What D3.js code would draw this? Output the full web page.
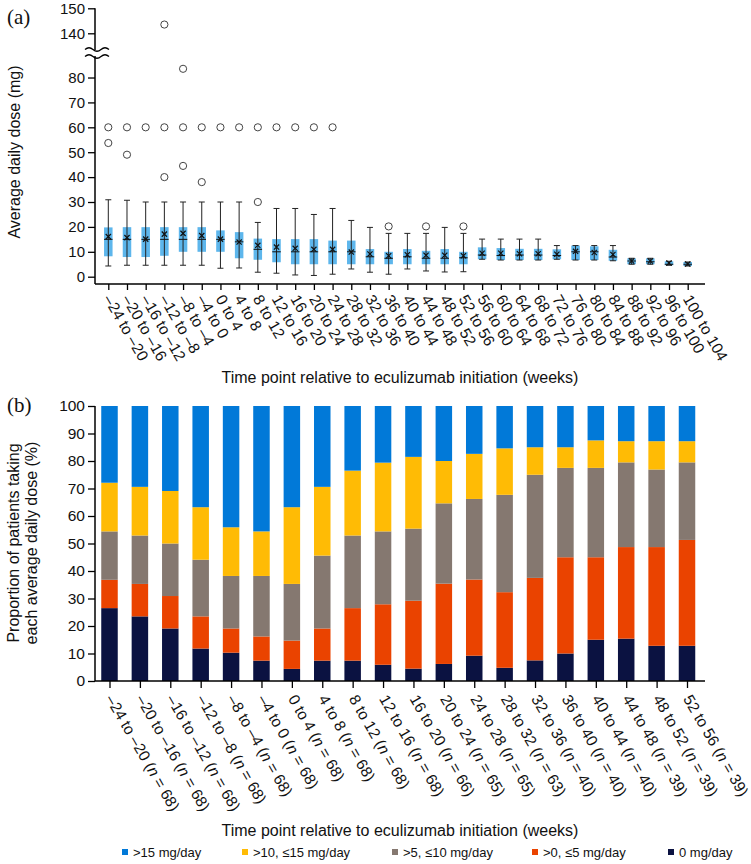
<!DOCTYPE html>
<html><head><meta charset="utf-8">
<script src="https://cdn.jsdelivr.net/npm/d3@7"></script>
<style>
body{margin:0;background:#fff}
svg{display:block}
text{font-family:"Liberation Sans",Arial,sans-serif;fill:#111}
</style>
</head><body>
<svg id="c" width="751" height="864"></svg>
<script>
// ---------- Panel (a) data ----------
const boxCategories = ["–24 to –20","–20 to –16","–16 to –12","–12 to –8","–8 to –4","–4 to 0","0 to 4","4 to 8","8 to 12","12 to 16","16 to 20","20 to 24","24 to 28","28 to 32","32 to 36","36 to 40","40 to 44","44 to 48","48 to 52","52 to 56","56 to 60","60 to 64","64 to 68","68 to 72","72 to 76","76 to 80","80 to 84","84 to 88","88 to 92","92 to 96","96 to 100","100 to 104"];
const whiskerLow = [4.3,4.6,4.6,4.6,4.6,4.6,3.4,3.5,1.8,1.4,0.7,0.5,1.0,3.1,1.8,1.0,3.1,2.3,1.9,2.0,7.0,6.7,6.7,6.7,7.0,6.7,6.7,6.4,5.0,5.0,4.6,4.3];
const q1Values   = [8.2,7.9,7.9,8.4,10.0,10.0,10.0,7.4,6.8,5.8,5.0,5.0,5.0,5.0,5.0,5.0,5.0,5.0,5.0,5.0,7.0,6.7,6.7,6.7,7.0,6.7,6.7,6.4,5.0,5.0,4.6,4.3];
const medianValues = [15,15,15,15,15,15,15,14,11,10,10,10,10,10,8,7.4,8,7.4,7.4,7.6,8.7,8.5,8.7,8.7,8.5,10,10,7.9,6.3,6.0,5.0,5.0];
const q3Values   = [19.8,19.9,19.9,19.9,19.9,19.9,18.6,17.9,15.3,15.1,15.1,15.1,14.5,14.5,11.1,10.0,11.1,10.4,11.1,10.0,11.8,11.5,11.2,11.2,11.0,12.5,12.2,10.8,7.4,7.4,6.2,5.9];
const whiskerHigh = [30.9,30.7,30.0,30.0,30.0,30.0,30.0,30.0,21.8,27.4,27.4,25.0,27.4,22.6,19.8,17.4,17.4,17.4,19.8,17.4,15.1,15.1,15.1,15.1,12.5,12.5,12.5,12.5,7.4,7.4,6.2,5.9];
const meanValues = [16.1,15.7,15.1,17.1,17.4,16.5,15.1,13.9,12.6,11.9,11.4,11.0,11.0,9.9,9.1,8.4,8.8,8.6,8.6,8.4,9.4,9.4,9.2,9.2,9.0,10.2,9.7,8.9,6.3,6.3,5.5,5.1];
const outlierCategory = ["–24 to –20","–24 to –20","–20 to –16","–20 to –16","–16 to –12","–12 to –8","–12 to –8","–12 to –8","–8 to –4","–8 to –4","–8 to –4","–4 to 0","–4 to 0","0 to 4","4 to 8","8 to 12","8 to 12","12 to 16","16 to 20","20 to 24","24 to 28","36 to 40","44 to 48","52 to 56"];
const outlierValue    = [60,53.7,60,49,60,143.5,60,40,83.5,60,44.5,60,38,60,60,60,30,60,60,60,60,20.2,20.2,20.2];
const yTicksLower = [0,10,20,30,40,50,60,70,80];
const yTicksUpper = [140,150];

// ---------- Panel (b) data ----------
const barCategories = ["–24 to –20","–20 to –16","–16 to –12","–12 to –8","–8 to –4","–4 to 0","0 to 4","4 to 8","8 to 12","12 to 16","16 to 20","20 to 24","24 to 28","28 to 32","32 to 36","36 to 40","40 to 44","44 to 48","48 to 52","52 to 56"];
const barN = [68,68,68,68,68,68,68,68,68,68,66,65,65,63,40,40,40,39,39,39];
const pct0mg   = [26.5,23.5,19.1,11.8,10.3,7.4,4.4,7.4,7.4,5.9,4.5,6.2,9.2,4.8,7.5,10.0,15.0,15.4,12.8,12.8];
const pctLe5   = [10.3,11.8,11.8,11.7,8.8,8.8,10.3,11.7,19.1,22.0,24.7,29.2,27.7,27.5,30.0,35.0,30.0,33.3,35.9,38.5];
const pctLe10  = [17.6,17.6,19.1,20.6,19.1,22.0,20.6,26.5,26.4,26.5,26.2,29.2,29.3,35.4,37.5,32.5,32.5,30.8,28.2,28.2];
const pctLe15  = [17.7,17.7,19.1,19.1,17.7,16.2,27.9,25.0,23.6,25.0,26.1,15.4,16.4,16.9,10.0,7.5,10.0,7.7,10.3,7.7];
const pctGt15  = [27.9,29.4,30.9,36.8,44.1,45.6,36.8,29.4,23.5,20.6,18.5,20.0,17.4,15.4,15.0,15.0,12.5,12.8,12.8,12.8];
const seriesKeys   = ["zero","le5","le10","le15","gt15"];
const seriesLabels = [">15 mg/day",">10, ≤15 mg/day",">5, ≤10 mg/day",">0, ≤5 mg/day","0 mg/day"];
const seriesColors = {zero:"#0b1241", le5:"#ea4300", le10:"#857870", le15:"#ffbb05", gt15:"#0179d8"};
const yTicksB = [0,10,20,30,40,50,60,70,80,90,100];

const svg = d3.select("#c");
const AX = "#000";

// ================= Panel (a) =================
const xA = d3.scalePoint().domain(boxCategories).range([108.3, 687.7]);
const yLow = d3.scaleLinear().domain([0, 88]).range([276.7, 57.6]);
const yUp = d3.scaleLinear().domain([134, 150]).range([48.3, 8.3]);
const yA = v => v > 100 ? yUp(v) : yLow(v);
const gA = svg.append("g");
const axisYA = 284;

// y axis lower
const ayl = gA.append("g").attr("transform","translate(95,0)")
  .call(d3.axisLeft(yLow).tickValues(yTicksLower).tickSize(7).tickPadding(3).tickSizeOuter(0));
const ayu = gA.append("g").attr("transform","translate(95,0)")
  .call(d3.axisLeft(yUp).tickValues(yTicksUpper).tickSize(7).tickPadding(3).tickSizeOuter(0));
[ayl, ayu].forEach(a => {
  a.select(".domain").remove();
  a.selectAll("text").style("font-size","15px").attr("fill","#111");
  a.selectAll("line").attr("stroke",AX).attr("stroke-width",1.3);
});
gA.append("line").attr("x1",95).attr("x2",95).attr("y1",yUp(150)).attr("y2",50).attr("stroke",AX).attr("stroke-width",1.5);
gA.append("line").attr("x1",95).attr("x2",95).attr("y1",56).attr("y2",axisYA).attr("stroke",AX).attr("stroke-width",1.5);
// break marks
[49.5, 56.5].forEach(yy => {
  gA.append("path").attr("d",`M85,${yy} q4,-3.5 8,0 t8,0 t8,0`).attr("fill","none").attr("stroke",AX).attr("stroke-width",1.3);
});

// x axis
const axA = gA.append("g").attr("transform",`translate(0,${axisYA})`)
  .call(d3.axisBottom(xA).tickSize(6).tickSizeOuter(0));
axA.select(".domain").remove();
axA.selectAll("line").attr("stroke",AX).attr("stroke-width",1.3);
axA.selectAll("text").attr("x",0).attr("y",0).attr("dy","0.35em")
  .attr("text-anchor","start").attr("transform","translate(-1,12) rotate(60)")
  .style("font-size","15.5px").attr("fill","#111");
gA.append("line").attr("x1",95).attr("x2",705).attr("y1",axisYA).attr("y2",axisYA).attr("stroke",AX).attr("stroke-width",1.5);

// boxes
const bw = 8.5, cap = 6;
boxCategories.forEach((c, i) => {
  const x = xA(c);
  const g = gA.append("g");
  g.append("rect").attr("x", x - bw/2).attr("width", bw)
    .attr("y", yLow(q3Values[i])).attr("height", Math.max(1, yLow(q1Values[i]) - yLow(q3Values[i])))
    .attr("fill", "#5db6ec");
  g.append("line").attr("x1",x).attr("x2",x).attr("y1",yLow(whiskerHigh[i])).attr("y2",yLow(whiskerLow[i]))
    .attr("stroke","#222").attr("stroke-width",1);
  [whiskerHigh[i], whiskerLow[i]].forEach(v => g.append("line").attr("x1",x-cap/2).attr("x2",x+cap/2)
    .attr("y1",yLow(v)).attr("y2",yLow(v)).attr("stroke","#222").attr("stroke-width",1));
  g.append("line").attr("x1",x-bw/2).attr("x2",x+bw/2).attr("y1",yLow(medianValues[i])).attr("y2",yLow(medianValues[i]))
    .attr("stroke","#111").attr("stroke-width",1);
  const my = yLow(meanValues[i]), s = 2.6;
  g.append("path").attr("d",`M${x-s},${my-s}L${x+s},${my+s}M${x-s},${my+s}L${x+s},${my-s}`)
    .attr("stroke","#111").attr("stroke-width",1.2);
});
// outliers
outlierCategory.forEach((c, i) => {
  gA.append("circle").attr("cx", xA(c)).attr("cy", yA(outlierValue[i])).attr("r", 3.6)
    .attr("fill","none").attr("stroke","#444").attr("stroke-width",1);
});

gA.append("text").attr("transform","translate(20,152) rotate(-90)").attr("text-anchor","middle")
  .style("font-size","16px").text("Average daily dose (mg)");
gA.append("text").attr("x",400).attr("y",383).attr("text-anchor","middle")
  .style("font-size","16px").text("Time point relative to eculizumab initiation (weeks)");
gA.append("text").attr("x",7).attr("y",24).style("font-family","'Liberation Serif','Times New Roman',serif")
  .style("font-size","21px").text("(a)");

// ================= Panel (b) =================
const xB = d3.scalePoint().domain(barCategories).range([109.5, 687]);
const yB = d3.scaleLinear().domain([0, 100]).range([681, 406]);
const gB = svg.append("g");
const rows = barCategories.map((c, i) => ({cat:c, zero:pct0mg[i], le5:pctLe5[i], le10:pctLe10[i], le15:pctLe15[i], gt15:pctGt15[i]}));
const stacked = d3.stack().keys(seriesKeys)(rows);
const barW = 16.5;
stacked.forEach(layer => {
  gB.append("g").attr("fill", seriesColors[layer.key]).selectAll("rect").data(layer).join("rect")
    .attr("x", d => xB(d.data.cat) - barW/2).attr("width", barW)
    .attr("y", d => yB(d[1])).attr("height", d => yB(d[0]) - yB(d[1]));
});

const ayB = gB.append("g").attr("transform","translate(95,0)")
  .call(d3.axisLeft(yB).tickValues(yTicksB).tickSize(7).tickPadding(3).tickSizeOuter(0));
ayB.select(".domain").remove();
ayB.selectAll("text").style("font-size","15.5px").attr("fill","#111");
ayB.selectAll("line").attr("stroke",AX).attr("stroke-width",1.3);
gB.append("line").attr("x1",95).attr("x2",95).attr("y1",406).attr("y2",681).attr("stroke",AX).attr("stroke-width",1.5);

const axB = gB.append("g").attr("transform","translate(0,681)")
  .call(d3.axisBottom(xB).tickSize(7).tickSizeOuter(0));
axB.select(".domain").remove();
axB.selectAll("line").attr("stroke",AX).attr("stroke-width",1.3);
axB.selectAll("text").each(function(d, i) {
  const t = d3.select(this).text("");
  t.append("tspan").text(d + " (");
  t.append("tspan").style("font-style","italic").text("n");
  t.append("tspan").text(" = " + barN[i] + ")");
}).attr("x",0).attr("y",0).attr("dy","0.35em").attr("text-anchor","start")
  .attr("transform","translate(0,15) rotate(60)").style("font-size","15.5px").attr("fill","#111");
gB.append("line").attr("x1",95).attr("x2",705).attr("y1",681).attr("y2",681).attr("stroke",AX).attr("stroke-width",1.5);

const yt = gB.append("text").attr("transform","translate(0,543) rotate(-90)").attr("text-anchor","middle").style("font-size","16px");
yt.append("tspan").attr("x",0).attr("y",19).text("Proportion of patients taking");
yt.append("tspan").attr("x",0).attr("y",37).text("each average daily dose (%)");
gB.append("text").attr("x",400).attr("y",836).attr("text-anchor","middle")
  .style("font-size","16px").text("Time point relative to eculizumab initiation (weeks)");
gB.append("text").attr("x",7).attr("y",412).style("font-family","'Liberation Serif','Times New Roman',serif")
  .style("font-size","21px").text("(b)");

// legend
const legendKeys = ["gt15","le15","le10","le5","zero"];
const legendX = [122, 242, 392, 532, 668];
legendKeys.forEach((k, i) => {
  gB.append("rect").attr("x", legendX[i]).attr("y", 849).attr("width",6).attr("height",6).attr("fill", seriesColors[k]);
  gB.append("text").attr("x", legendX[i] + 11).attr("y", 857).style("font-size","13px").text(seriesLabels[i]);
});
</script>
</body></html>
